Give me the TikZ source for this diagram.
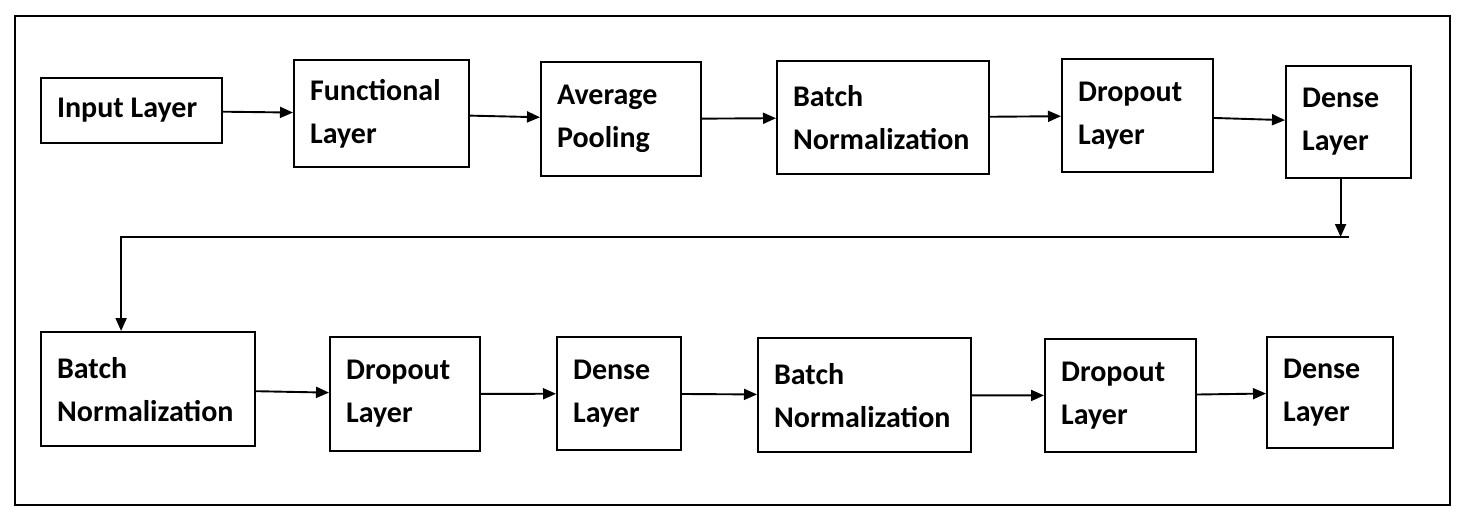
\documentclass[tikz,border=0pt]{standalone}
\usepackage{fontspec}
\setmainfont{Carlito}
\usetikzlibrary{positioning,arrows.meta}

\begin{document}
\begin{tikzpicture}[x=1pt, y=-1pt,
  layerbox/.style={draw, line width=2.2pt, anchor=north west, inner xsep=16pt, inner ysep=2pt, align=flush left, font=\fontsize{30}{43}\selectfont\bfseries},
  flow/.style={line width=1.9pt, -{Triangle[length=13pt,width=11pt]}}]
\useasboundingbox (0,0) rectangle (1465,514);
\draw[line width=2.4pt] (15,16) rectangle (1450,505);
\node[layerbox, text width=149pt, minimum height=65pt] (inp) at (40,77) {Input Layer};
\node[layerbox, text width=143pt, minimum height=107pt] (func) at (293,59) {Functional\\Layer};
\node[layerbox, text width=128pt, minimum height=114pt] (avg) at (540,61) {Average\\Pooling};
\node[layerbox, text width=180pt, minimum height=113pt] (bnA) at (776,60) {Batch\\Normalization};
\node[layerbox, text width=119pt, minimum height=113pt] (dropA) at (1061,58) {Dropout\\Layer};
\node[layerbox, text width=93pt, minimum height=112pt] (denseA) at (1285,65) {Dense\\Layer};
\node[layerbox, text width=182pt, minimum height=114pt] (bnB) at (40,331) {Batch\\Normalization};
\node[layerbox, text width=118pt, minimum height=114pt] (dropB) at (329,336) {Dropout\\Layer};
\node[layerbox, text width=92pt, minimum height=113pt] (denseB) at (556,336) {Dense\\Layer};
\node[layerbox, text width=181pt, minimum height=114pt] (bnC) at (757,337) {Batch\\Normalization};
\node[layerbox, text width=119pt, minimum height=113pt] (dropC) at (1044,338) {Dropout\\Layer};
\node[layerbox, text width=94pt, minimum height=111pt] (denseC) at (1266,336) {Dense\\Layer};
\coordinate (bend) at (1349,237);
\draw[flow] (inp) -- (func);
\draw[flow] (func) -- (avg);
\draw[flow] (avg) -- (bnA);
\draw[flow] (bnA) -- (dropA);
\draw[flow] (dropA) -- (denseA);
\draw[flow] ([xshift=-8pt]denseA.south) -- ([xshift=-8pt]denseA.south |- bend);
\draw[flow] (bend) -| ([xshift=-27pt]bnB.north);
\draw[flow] (bnB) -- (dropB);
\draw[flow] (dropB) -- (denseB);
\draw[flow] (denseB) -- (bnC);
\draw[flow] (bnC) -- (dropC);
\draw[flow] (dropC) -- (denseC);
\end{tikzpicture}
\end{document}
